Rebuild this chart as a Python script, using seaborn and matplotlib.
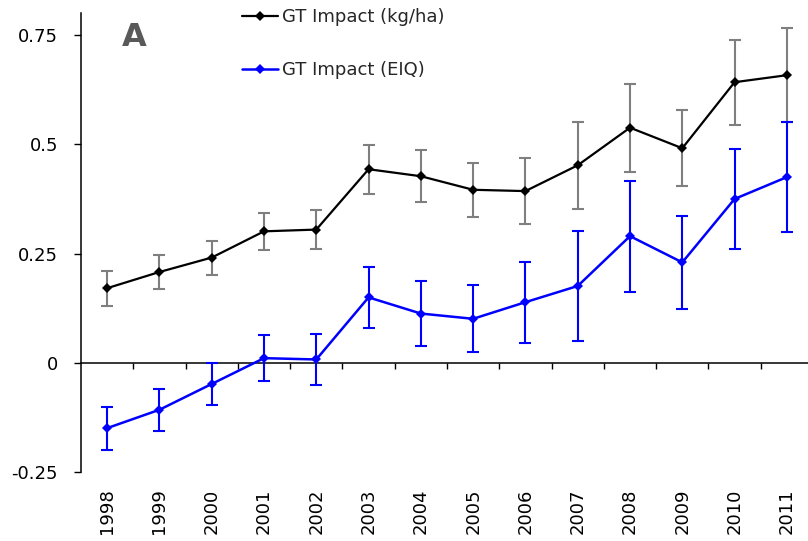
import numpy as np
import pandas as pd
import matplotlib
matplotlib.use("Agg")
import matplotlib.pyplot as plt
import seaborn as sns

years = ["1998", "1999", "2000", "2001", "2002", "2003", "2004",
         "2005", "2006", "2007", "2008", "2009", "2010", "2011"]
kg_ha = [0.171, 0.208, 0.241, 0.301, 0.305, 0.443, 0.427,
         0.396, 0.393, 0.452, 0.538, 0.491, 0.642, 0.658]
kg_ha_err = [0.040, 0.038, 0.039, 0.042, 0.045, 0.056, 0.059,
             0.062, 0.075, 0.100, 0.101, 0.087, 0.097, 0.108]
eiq = [-0.149, -0.107, -0.048, 0.011, 0.008, 0.150, 0.113,
       0.101, 0.139, 0.176, 0.290, 0.230, 0.375, 0.425]
eiq_err = [0.049, 0.048, 0.048, 0.053, 0.058, 0.070, 0.075,
           0.077, 0.093, 0.126, 0.127, 0.107, 0.115, 0.125]
y_ticks = [-0.25, 0, 0.25, 0.5, 0.75]
y_tick_labels = ["-0.25", "0", "0.25", "0.5", "0.75"]
label_kg = "GT Impact (kg/ha)"
label_eiq = "GT Impact (EIQ)"
panel = "A"

sns.set_theme(style="ticks")
plt.rcParams["font.family"] = ["DejaVu Sans"]

pos = np.arange(len(years))
df = pd.DataFrame({"pos": pos, "kg": kg_ha, "eiq": eiq})

fig = plt.figure(figsize=(8.08, 5.41), dpi=100)
ax = fig.add_axes([81 / 808, 1 - 472.3 / 541, (813 - 81) / 808, (472.3 - 13.1) / 541])

ylo, yhi = -0.25, 0.8

ax.errorbar(pos, kg_ha, yerr=kg_ha_err, fmt="none", ecolor="#7f7f7f",
            elinewidth=1.5, capsize=4, capthick=1.5, zorder=2)
ax.errorbar(pos, eiq, yerr=eiq_err, fmt="none", ecolor="#0000ff",
            elinewidth=1.5, capsize=4, capthick=1.5, zorder=2)
sns.lineplot(data=df, x="pos", y="kg", ax=ax, color="black", marker="D",
             markersize=5.5, markeredgewidth=0, linewidth=1.6, label=label_kg, zorder=3)
sns.lineplot(data=df, x="pos", y="eiq", ax=ax, color="#0000ff", marker="D",
             markersize=5.5, markeredgewidth=0, linewidth=1.8, label=label_eiq, zorder=3)

ax.set_xlim(-0.5, len(years) - 0.5)
ax.set_ylim(ylo, yhi)
ax.set_yticks(y_ticks)
ax.set_yticklabels(y_tick_labels)
ax.set_xticks(pos)
ax.set_xticklabels(years, rotation=90)
ax.set_xlabel("")
ax.set_ylabel("")
ax.tick_params(axis="x", length=0, pad=11.5, labelsize=13, colors="black")
ax.tick_params(axis="y", length=5, width=1, pad=11.5, labelsize=13, colors="black",
               direction="out")
for s in ["top", "right", "bottom"]:
    ax.spines[s].set_visible(False)
ax.spines["left"].set_linewidth(1.1)
ax.spines["left"].set_color("black")

# zero line with category-boundary ticks
loc = (0 - ylo) / (yhi - ylo)
sec = ax.secondary_xaxis(loc)
sec.set_xticks(np.arange(0.5, len(years) - 1, 1.0))
sec.set_xticklabels([])
sec.tick_params(axis="x", length=4.5, width=1, direction="out", colors="black")
sec.spines["bottom"].set_linewidth(1.1)
sec.spines["bottom"].set_color("black")

ax.text(134 / 808, 1 - 38 / 541, panel, transform=fig.transFigure, fontsize=23,
        fontweight="bold", color="#595959", ha="center", va="center")

leg = ax.legend(loc="upper left", bbox_to_anchor=(242 / 808, 1 - 8 / 541),
                bbox_transform=fig.transFigure, frameon=False, fontsize=13,
                labelspacing=1.95, handlelength=2.0, handletextpad=0.2,
                borderpad=0, borderaxespad=0)

fig.savefig("out.png", dpi=100, facecolor="white")
